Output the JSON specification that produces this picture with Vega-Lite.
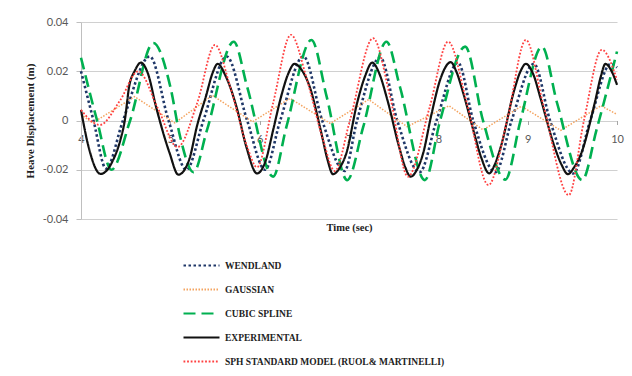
{
  "$schema": "https://vega.github.io/schema/vega-lite/v6.json",
  "width": 536,
  "height": 197,
  "autosize": {"type": "none"},
  "padding": {"left": 81, "top": 22, "right": 15, "bottom": 157},
  "background": "white",
  "config": {
    "view": {"stroke": null},
    "axis": {"labelFont": "Lato", "labelFontSize": 11, "labelColor": "#595959", "titleFont": "Liberation Serif", "titleFontWeight": "bold", "titleColor": "#222222"},
    "legend": {"labelFont": "Liberation Serif", "labelFontWeight": "bold", "labelFontSize": 9.5, "labelColor": "#222222", "labelLimit": 0}
  },
  "data": {
    "values": [
      {"series": "WENDLAND", "time": 4.00, "heave": 0.0200},
      {"series": "WENDLAND", "time": 4.14, "heave": 0.0},
      {"series": "WENDLAND", "time": 4.28, "heave": -0.0195},
      {"series": "WENDLAND", "time": 4.47, "heave": 0.0},
      {"series": "WENDLAND", "time": 4.77, "heave": 0.0260},
      {"series": "WENDLAND", "time": 4.98, "heave": 0.0},
      {"series": "WENDLAND", "time": 5.18, "heave": -0.0200},
      {"series": "WENDLAND", "time": 5.37, "heave": 0.0},
      {"series": "WENDLAND", "time": 5.63, "heave": 0.0260},
      {"series": "WENDLAND", "time": 5.86, "heave": 0.0},
      {"series": "WENDLAND", "time": 6.06, "heave": -0.0200},
      {"series": "WENDLAND", "time": 6.23, "heave": 0.0},
      {"series": "WENDLAND", "time": 6.49, "heave": 0.0260},
      {"series": "WENDLAND", "time": 6.70, "heave": 0.0},
      {"series": "WENDLAND", "time": 6.95, "heave": -0.0205},
      {"series": "WENDLAND", "time": 7.09, "heave": 0.0},
      {"series": "WENDLAND", "time": 7.35, "heave": 0.0255},
      {"series": "WENDLAND", "time": 7.54, "heave": 0.0},
      {"series": "WENDLAND", "time": 7.79, "heave": -0.0210},
      {"series": "WENDLAND", "time": 7.98, "heave": 0.0},
      {"series": "WENDLAND", "time": 8.22, "heave": 0.0235},
      {"series": "WENDLAND", "time": 8.39, "heave": 0.0},
      {"series": "WENDLAND", "time": 8.64, "heave": -0.0210},
      {"series": "WENDLAND", "time": 8.82, "heave": 0.0},
      {"series": "WENDLAND", "time": 9.07, "heave": 0.0230},
      {"series": "WENDLAND", "time": 9.25, "heave": 0.0},
      {"series": "WENDLAND", "time": 9.51, "heave": -0.0215},
      {"series": "WENDLAND", "time": 9.70, "heave": 0.0},
      {"series": "WENDLAND", "time": 9.93, "heave": 0.0230},
      {"series": "WENDLAND", "time": 10.0, "heave": 0.0215},

      {"series": "GAUSSIAN", "time": 4.00, "heave": 0.0025},
      {"series": "GAUSSIAN", "time": 4.13, "heave": -0.0010},
      {"series": "GAUSSIAN", "time": 4.60, "heave": 0.0097},
      {"series": "GAUSSIAN", "time": 5.05, "heave": -0.0010},
      {"series": "GAUSSIAN", "time": 5.47, "heave": 0.0102},
      {"series": "GAUSSIAN", "time": 5.92, "heave": -0.0005},
      {"series": "GAUSSIAN", "time": 6.34, "heave": 0.0090},
      {"series": "GAUSSIAN", "time": 6.79, "heave": -0.0012},
      {"series": "GAUSSIAN", "time": 7.22, "heave": 0.0085},
      {"series": "GAUSSIAN", "time": 7.65, "heave": -0.0025},
      {"series": "GAUSSIAN", "time": 8.12, "heave": 0.0060},
      {"series": "GAUSSIAN", "time": 8.50, "heave": -0.0038},
      {"series": "GAUSSIAN", "time": 8.93, "heave": 0.0058},
      {"series": "GAUSSIAN", "time": 9.37, "heave": -0.0040},
      {"series": "GAUSSIAN", "time": 9.82, "heave": 0.0060},
      {"series": "GAUSSIAN", "time": 10.0, "heave": 0.0025},

      {"series": "CUBIC SPLINE", "time": 4.00, "heave": 0.0255},
      {"series": "CUBIC SPLINE", "time": 4.18, "heave": 0.0},
      {"series": "CUBIC SPLINE", "time": 4.34, "heave": -0.0200},
      {"series": "CUBIC SPLINE", "time": 4.55, "heave": 0.0},
      {"series": "CUBIC SPLINE", "time": 4.81, "heave": 0.0315},
      {"series": "CUBIC SPLINE", "time": 5.00, "heave": 0.0137},
      {"series": "CUBIC SPLINE", "time": 5.11, "heave": -0.0066},
      {"series": "CUBIC SPLINE", "time": 5.26, "heave": -0.0210},
      {"series": "CUBIC SPLINE", "time": 5.41, "heave": -0.0039},
      {"series": "CUBIC SPLINE", "time": 5.71, "heave": 0.0320},
      {"series": "CUBIC SPLINE", "time": 5.86, "heave": 0.0137},
      {"series": "CUBIC SPLINE", "time": 6.15, "heave": -0.0228},
      {"series": "CUBIC SPLINE", "time": 6.30, "heave": -0.0025},
      {"series": "CUBIC SPLINE", "time": 6.58, "heave": 0.0327},
      {"series": "CUBIC SPLINE", "time": 6.75, "heave": 0.0097},
      {"series": "CUBIC SPLINE", "time": 6.98, "heave": -0.0242},
      {"series": "CUBIC SPLINE", "time": 7.16, "heave": -0.0025},
      {"series": "CUBIC SPLINE", "time": 7.42, "heave": 0.0320},
      {"series": "CUBIC SPLINE", "time": 7.57, "heave": 0.0137},
      {"series": "CUBIC SPLINE", "time": 7.85, "heave": -0.0242},
      {"series": "CUBIC SPLINE", "time": 8.02, "heave": 0.0},
      {"series": "CUBIC SPLINE", "time": 8.30, "heave": 0.0300},
      {"series": "CUBIC SPLINE", "time": 8.50, "heave": 0.0},
      {"series": "CUBIC SPLINE", "time": 8.75, "heave": -0.0240},
      {"series": "CUBIC SPLINE", "time": 8.92, "heave": 0.0},
      {"series": "CUBIC SPLINE", "time": 9.16, "heave": 0.0300},
      {"series": "CUBIC SPLINE", "time": 9.33, "heave": 0.0070},
      {"series": "CUBIC SPLINE", "time": 9.61, "heave": -0.0242},
      {"series": "CUBIC SPLINE", "time": 9.77, "heave": -0.0039},
      {"series": "CUBIC SPLINE", "time": 10.0, "heave": 0.0280},

      {"series": "EXPERIMENTAL", "time": 4.00, "heave": 0.0043},
      {"series": "EXPERIMENTAL", "time": 4.08, "heave": -0.0100},
      {"series": "EXPERIMENTAL", "time": 4.22, "heave": -0.0217},
      {"series": "EXPERIMENTAL", "time": 4.36, "heave": -0.0160},
      {"series": "EXPERIMENTAL", "time": 4.44, "heave": -0.0080},
      {"series": "EXPERIMENTAL", "time": 4.49, "heave": 0.0},
      {"series": "EXPERIMENTAL", "time": 4.54, "heave": 0.0140},
      {"series": "EXPERIMENTAL", "time": 4.60, "heave": 0.0200},
      {"series": "EXPERIMENTAL", "time": 4.67, "heave": 0.0235},
      {"series": "EXPERIMENTAL", "time": 4.75, "heave": 0.0190},
      {"series": "EXPERIMENTAL", "time": 4.84, "heave": 0.0056},
      {"series": "EXPERIMENTAL", "time": 4.99, "heave": -0.0130},
      {"series": "EXPERIMENTAL", "time": 5.09, "heave": -0.0220},
      {"series": "EXPERIMENTAL", "time": 5.21, "heave": -0.0160},
      {"series": "EXPERIMENTAL", "time": 5.30, "heave": -0.0020},
      {"series": "EXPERIMENTAL", "time": 5.40, "heave": 0.0100},
      {"series": "EXPERIMENTAL", "time": 5.47, "heave": 0.0190},
      {"series": "EXPERIMENTAL", "time": 5.53, "heave": 0.0230},
      {"series": "EXPERIMENTAL", "time": 5.62, "heave": 0.0180},
      {"series": "EXPERIMENTAL", "time": 5.74, "heave": 0.0056},
      {"series": "EXPERIMENTAL", "time": 5.85, "heave": -0.0106},
      {"series": "EXPERIMENTAL", "time": 5.97, "heave": -0.0215},
      {"series": "EXPERIMENTAL", "time": 6.07, "heave": -0.0160},
      {"series": "EXPERIMENTAL", "time": 6.15, "heave": -0.0040},
      {"series": "EXPERIMENTAL", "time": 6.24, "heave": 0.0097},
      {"series": "EXPERIMENTAL", "time": 6.32, "heave": 0.0190},
      {"series": "EXPERIMENTAL", "time": 6.39, "heave": 0.0230},
      {"series": "EXPERIMENTAL", "time": 6.48, "heave": 0.0200},
      {"series": "EXPERIMENTAL", "time": 6.56, "heave": 0.0137},
      {"series": "EXPERIMENTAL", "time": 6.69, "heave": -0.0050},
      {"series": "EXPERIMENTAL", "time": 6.76, "heave": -0.0160},
      {"series": "EXPERIMENTAL", "time": 6.82, "heave": -0.0218},
      {"series": "EXPERIMENTAL", "time": 6.90, "heave": -0.0190},
      {"series": "EXPERIMENTAL", "time": 6.97, "heave": -0.0133},
      {"series": "EXPERIMENTAL", "time": 7.09, "heave": 0.0070},
      {"series": "EXPERIMENTAL", "time": 7.18, "heave": 0.0180},
      {"series": "EXPERIMENTAL", "time": 7.26, "heave": 0.0235},
      {"series": "EXPERIMENTAL", "time": 7.34, "heave": 0.0190},
      {"series": "EXPERIMENTAL", "time": 7.43, "heave": 0.0083},
      {"series": "EXPERIMENTAL", "time": 7.56, "heave": -0.0106},
      {"series": "EXPERIMENTAL", "time": 7.63, "heave": -0.0190},
      {"series": "EXPERIMENTAL", "time": 7.69, "heave": -0.0228},
      {"series": "EXPERIMENTAL", "time": 7.76, "heave": -0.0200},
      {"series": "EXPERIMENTAL", "time": 7.83, "heave": -0.0133},
      {"series": "EXPERIMENTAL", "time": 7.92, "heave": 0.0020},
      {"series": "EXPERIMENTAL", "time": 8.02, "heave": 0.0165},
      {"series": "EXPERIMENTAL", "time": 8.14, "heave": 0.0237},
      {"series": "EXPERIMENTAL", "time": 8.20, "heave": 0.0200},
      {"series": "EXPERIMENTAL", "time": 8.28, "heave": 0.0110},
      {"series": "EXPERIMENTAL", "time": 8.40, "heave": -0.0050},
      {"series": "EXPERIMENTAL", "time": 8.48, "heave": -0.0150},
      {"series": "EXPERIMENTAL", "time": 8.57, "heave": -0.0215},
      {"series": "EXPERIMENTAL", "time": 8.63, "heave": -0.0180},
      {"series": "EXPERIMENTAL", "time": 8.70, "heave": -0.0106},
      {"series": "EXPERIMENTAL", "time": 8.85, "heave": 0.0124},
      {"series": "EXPERIMENTAL", "time": 8.92, "heave": 0.0200},
      {"series": "EXPERIMENTAL", "time": 8.98, "heave": 0.0230},
      {"series": "EXPERIMENTAL", "time": 9.06, "heave": 0.0190},
      {"series": "EXPERIMENTAL", "time": 9.15, "heave": 0.0083},
      {"series": "EXPERIMENTAL", "time": 9.30, "heave": -0.0106},
      {"series": "EXPERIMENTAL", "time": 9.38, "heave": -0.0180},
      {"series": "EXPERIMENTAL", "time": 9.45, "heave": -0.0218},
      {"series": "EXPERIMENTAL", "time": 9.52, "heave": -0.0190},
      {"series": "EXPERIMENTAL", "time": 9.60, "heave": -0.0133},
      {"series": "EXPERIMENTAL", "time": 9.75, "heave": 0.0070},
      {"series": "EXPERIMENTAL", "time": 9.82, "heave": 0.0180},
      {"series": "EXPERIMENTAL", "time": 9.87, "heave": 0.0230},
      {"series": "EXPERIMENTAL", "time": 9.94, "heave": 0.0200},
      {"series": "EXPERIMENTAL", "time": 10.0, "heave": 0.0145},

      {"series": "SPH STANDARD MODEL (RUOL& MARTINELLI)", "time": 4.00, "heave": 0.0043},
      {"series": "SPH STANDARD MODEL (RUOL& MARTINELLI)", "time": 4.21, "heave": -0.0018},
      {"series": "SPH STANDARD MODEL (RUOL& MARTINELLI)", "time": 4.44, "heave": 0.0083},
      {"series": "SPH STANDARD MODEL (RUOL& MARTINELLI)", "time": 4.64, "heave": 0.0200},
      {"series": "SPH STANDARD MODEL (RUOL& MARTINELLI)", "time": 4.86, "heave": 0.0050},
      {"series": "SPH STANDARD MODEL (RUOL& MARTINELLI)", "time": 5.08, "heave": -0.0108},
      {"series": "SPH STANDARD MODEL (RUOL& MARTINELLI)", "time": 5.30, "heave": 0.0070},
      {"series": "SPH STANDARD MODEL (RUOL& MARTINELLI)", "time": 5.50, "heave": 0.0307},
      {"series": "SPH STANDARD MODEL (RUOL& MARTINELLI)", "time": 5.67, "heave": 0.0137},
      {"series": "SPH STANDARD MODEL (RUOL& MARTINELLI)", "time": 5.86, "heave": -0.0106},
      {"series": "SPH STANDARD MODEL (RUOL& MARTINELLI)", "time": 5.97, "heave": -0.0190},
      {"series": "SPH STANDARD MODEL (RUOL& MARTINELLI)", "time": 6.15, "heave": 0.0070},
      {"series": "SPH STANDARD MODEL (RUOL& MARTINELLI)", "time": 6.35, "heave": 0.0348},
      {"series": "SPH STANDARD MODEL (RUOL& MARTINELLI)", "time": 6.53, "heave": 0.0165},
      {"series": "SPH STANDARD MODEL (RUOL& MARTINELLI)", "time": 6.71, "heave": -0.0079},
      {"series": "SPH STANDARD MODEL (RUOL& MARTINELLI)", "time": 6.84, "heave": -0.0205},
      {"series": "SPH STANDARD MODEL (RUOL& MARTINELLI)", "time": 7.01, "heave": 0.0},
      {"series": "SPH STANDARD MODEL (RUOL& MARTINELLI)", "time": 7.27, "heave": 0.0334},
      {"series": "SPH STANDARD MODEL (RUOL& MARTINELLI)", "time": 7.46, "heave": 0.0097},
      {"series": "SPH STANDARD MODEL (RUOL& MARTINELLI)", "time": 7.66, "heave": -0.0228},
      {"series": "SPH STANDARD MODEL (RUOL& MARTINELLI)", "time": 7.90, "heave": 0.0050},
      {"series": "SPH STANDARD MODEL (RUOL& MARTINELLI)", "time": 8.11, "heave": 0.0320},
      {"series": "SPH STANDARD MODEL (RUOL& MARTINELLI)", "time": 8.32, "heave": 0.0070},
      {"series": "SPH STANDARD MODEL (RUOL& MARTINELLI)", "time": 8.56, "heave": -0.0262},
      {"series": "SPH STANDARD MODEL (RUOL& MARTINELLI)", "time": 8.77, "heave": 0.0},
      {"series": "SPH STANDARD MODEL (RUOL& MARTINELLI)", "time": 8.98, "heave": 0.0327},
      {"series": "SPH STANDARD MODEL (RUOL& MARTINELLI)", "time": 9.18, "heave": 0.0056},
      {"series": "SPH STANDARD MODEL (RUOL& MARTINELLI)", "time": 9.46, "heave": -0.0303},
      {"series": "SPH STANDARD MODEL (RUOL& MARTINELLI)", "time": 9.63, "heave": 0.0},
      {"series": "SPH STANDARD MODEL (RUOL& MARTINELLI)", "time": 9.83, "heave": 0.0287},
      {"series": "SPH STANDARD MODEL (RUOL& MARTINELLI)", "time": 10.0, "heave": 0.0165}
    ]
  },
  "resolve": {"axis": {"x": "independent"}},
  "layer": [
    {
      "encoding": {
        "x": {
          "field": "time", "type": "quantitative",
          "scale": {"domain": [4, 10], "nice": false, "zero": false},
          "axis": {"orient": "bottom", "offset": -98.5, "values": [4, 5, 6, 7, 8, 9, 10], "title": null, "grid": false, "domain": false, "tickColor": "#a6a6a6", "tickSize": 4, "labelPadding": 9, "labelFlush": false, "labelOverlap": false}
        },
        "y": {
          "field": "heave", "type": "quantitative",
          "scale": {"domain": [-0.04, 0.04], "nice": false, "zero": false},
          "axis": {"values": [-0.04, -0.03, -0.02, -0.01, 0, 0.01, 0.02, 0.03, 0.04], "labelExpr": "datum.value == 0 ? '0' : (datum.value < 0 ? '-' : '') + format(abs(datum.value), '.2f')", "title": "Heave Displacement (m)", "titleFontSize": 11, "titlePadding": 7, "grid": true, "gridColor": "#d0d0d0", "gridWidth": 1.2, "domainColor": "#bfbfbf", "tickColor": "#bfbfbf", "tickSize": 5, "labelPadding": 8}
        },
        "color": {
          "field": "series", "type": "nominal",
          "scale": {"domain": ["WENDLAND", "GAUSSIAN", "CUBIC SPLINE", "EXPERIMENTAL", "SPH STANDARD MODEL (RUOL& MARTINELLI)"], "range": ["#1f3768", "#f4a460", "#00b050", "#111111", "#ff4040"]},
          "legend": {"title": null, "orient": "none", "legendX": 101, "legendY": 224, "direction": "vertical", "symbolType": "stroke", "symbolSize": 1296, "symbolStrokeWidth": 2.2, "labelOffset": 4, "rowPadding": -1, "padding": 0, "labelLimit": 0}
        },
        "strokeDash": {
          "field": "series", "type": "nominal",
          "scale": {"domain": ["WENDLAND", "GAUSSIAN", "CUBIC SPLINE", "EXPERIMENTAL", "SPH STANDARD MODEL (RUOL& MARTINELLI)"], "range": [[2.5, 2.5], [1.5, 1.5], [12, 6], [1, 0], [1.8, 1.8]]},
          "legend": {"title": null, "orient": "none", "legendX": 101, "legendY": 224, "direction": "vertical", "symbolType": "stroke", "symbolSize": 1296, "symbolStrokeWidth": 2.2, "labelOffset": 4, "rowPadding": -1, "padding": 0, "labelLimit": 0}
        }
      },
      "layer": [
        {"transform": [{"filter": "datum.series === 'WENDLAND'"}], "mark": {"type": "line", "interpolate": "monotone", "strokeWidth": 2.6}},
        {"transform": [{"filter": "datum.series === 'GAUSSIAN'"}], "mark": {"type": "line", "interpolate": "linear", "strokeWidth": 1.5}},
        {"transform": [{"filter": "datum.series === 'CUBIC SPLINE'"}], "mark": {"type": "line", "interpolate": "monotone", "strokeWidth": 2.6}},
        {"transform": [{"filter": "datum.series === 'EXPERIMENTAL'"}], "mark": {"type": "line", "interpolate": "monotone", "strokeWidth": 2.2}},
        {"transform": [{"filter": "datum.series === 'SPH STANDARD MODEL (RUOL& MARTINELLI)'"}], "mark": {"type": "line", "interpolate": "monotone", "strokeWidth": 1.8}}
      ]
    },
    {
      "transform": [{"filter": "datum.series === 'EXPERIMENTAL' && datum.time === 4"}],
      "mark": {"type": "point", "opacity": 0},
      "encoding": {
        "x": {
          "field": "time", "type": "quantitative",
          "axis": {"orient": "bottom", "offset": 0, "title": "Time (sec)", "titleFontSize": 10.5, "titlePadding": 3, "labels": false, "ticks": false, "domain": false, "grid": false}
        },
        "y": {"field": "heave", "type": "quantitative"}
      }
    }
  ]
}
